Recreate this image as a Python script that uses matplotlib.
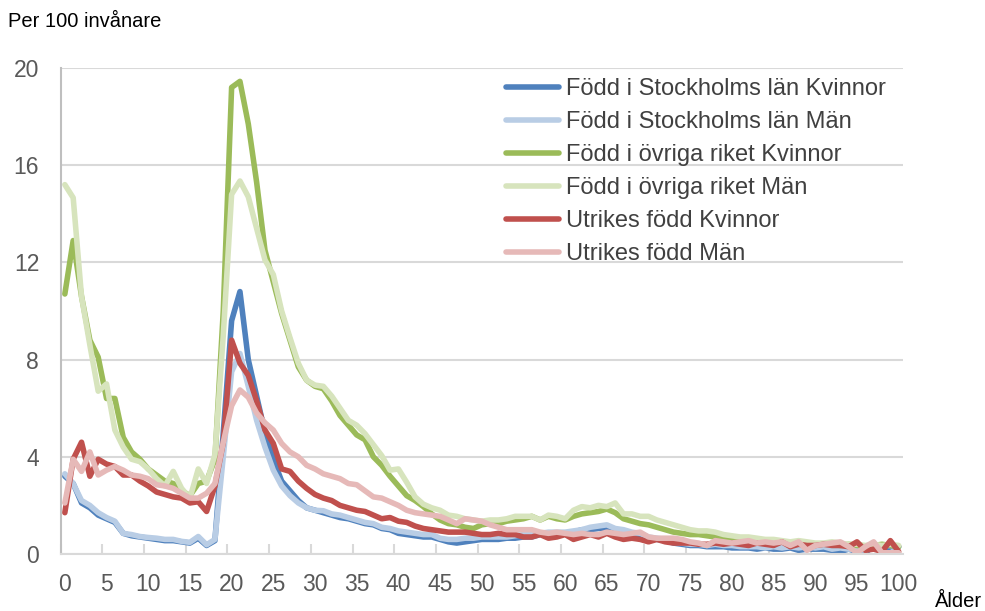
import matplotlib
matplotlib.use("Agg")
import matplotlib.pyplot as plt
import numpy as np

plt.rcParams['font.family'] = ['Liberation Sans', 'DejaVu Sans']

# Ages 0..100
ages = np.arange(0, 101)

sthlm_kvinnor = [
    3.2, 2.9, 2.1, 1.9, 1.6, 1.45, 1.3, 0.85, 0.75, 0.7,
    0.65, 0.6, 0.55, 0.55, 0.5, 0.45, 0.65, 0.35, 0.55, 5.0,
    9.6, 10.8, 8.0, 6.5, 5.0, 3.9, 3.0, 2.6, 2.2, 1.9,
    1.8, 1.7, 1.6, 1.5, 1.45, 1.35, 1.25, 1.2, 1.05, 1.0,
    0.85, 0.8, 0.75, 0.7, 0.7, 0.6, 0.5, 0.45, 0.5, 0.55,
    0.6, 0.6, 0.6, 0.65, 0.65, 0.7, 0.7, 0.8, 0.8, 0.8,
    0.85, 0.9, 1.0, 1.0, 1.05, 1.05, 0.9, 0.85, 0.8, 0.7,
    0.65, 0.6, 0.55, 0.45, 0.4, 0.35, 0.35, 0.3, 0.3, 0.3,
    0.25, 0.25, 0.25, 0.2, 0.25, 0.2, 0.2, 0.25, 0.15, 0.2,
    0.2, 0.2, 0.15, 0.1, 0.2, 0.1, 0.05, 0.35, 0.1, 0.3, 0.3,
]
sthlm_man = [
    3.3, 2.9, 2.2, 2.0, 1.7, 1.5, 1.35, 0.85, 0.8, 0.72,
    0.68, 0.65, 0.6, 0.6, 0.52, 0.48, 0.72, 0.38, 0.6, 4.0,
    7.5, 8.25, 6.9, 5.5, 4.4, 3.45, 2.8, 2.4, 2.1, 1.9,
    1.8, 1.78, 1.65, 1.6, 1.5, 1.4, 1.3, 1.25, 1.1, 1.05,
    0.95, 0.9, 0.85, 0.8, 0.8, 0.65, 0.6, 0.6, 0.65, 0.65,
    0.7, 0.7, 0.7, 0.7, 0.75, 0.8, 0.8, 0.85, 0.9, 0.9,
    0.9, 0.95, 1.0, 1.1, 1.15, 1.2, 1.05, 1.0, 0.9, 0.85,
    0.7, 0.65, 0.6, 0.5, 0.45, 0.4, 0.4, 0.35, 0.4, 0.35,
    0.35, 0.3, 0.3, 0.3, 0.25, 0.3, 0.25, 0.3, 0.25, 0.3,
    0.25, 0.3, 0.2, 0.25, 0.2, 0.2, 0.15, 0.3, 0.35, 0.35, 0.3,
]
ovriga_kvinnor = [
    10.7, 12.9, 10.6, 8.8, 8.1, 6.4, 6.4, 4.8, 4.2, 3.9,
    3.5, 3.25, 3.0, 2.9, 2.6, 2.4, 2.9, 3.0, 3.9, 10.0,
    19.2, 19.45, 17.7, 15.3, 12.5, 11.2, 9.9, 8.8, 7.7, 7.15,
    6.9, 6.8, 6.3, 5.7, 5.3, 4.9, 4.7, 4.0, 3.65, 3.2,
    2.8, 2.4, 2.2, 1.95, 1.65, 1.4, 1.25, 1.2, 1.1, 1.05,
    1.2, 1.25, 1.25, 1.35, 1.4, 1.45, 1.55, 1.4, 1.55, 1.45,
    1.4, 1.55, 1.65, 1.7, 1.75, 1.85, 1.7, 1.45, 1.35, 1.25,
    1.2, 1.1, 1.0, 0.9, 0.85, 0.8, 0.8, 0.75, 0.7, 0.65,
    0.6, 0.6, 0.55, 0.55, 0.5, 0.5, 0.5, 0.45, 0.45, 0.45,
    0.4, 0.4, 0.4, 0.35, 0.4, 0.35, 0.3, 0.35, 0.4, 0.35, 0.3,
]
ovriga_man = [
    15.2, 14.66, 10.6, 8.6, 6.7, 7.0, 5.1, 4.4, 3.9, 3.8,
    3.5, 3.1, 2.8, 3.4, 2.7, 2.3, 3.5, 2.9, 4.1, 9.0,
    14.8, 15.35, 14.7, 13.4, 12.1, 11.5, 10.0, 8.9, 7.85, 7.15,
    6.95, 6.9, 6.5, 6.0, 5.5, 5.3, 4.95, 4.5, 4.05, 3.45,
    3.5, 2.95, 2.35, 2.05, 1.9, 1.8, 1.6, 1.55, 1.45, 1.4,
    1.35, 1.4, 1.4, 1.45, 1.55, 1.55, 1.55, 1.4, 1.6, 1.55,
    1.45, 1.8, 1.95, 1.9, 2.0, 1.95, 2.1, 1.65, 1.65, 1.55,
    1.55, 1.4, 1.3, 1.2, 1.1, 1.0, 0.95, 0.95, 0.9, 0.8,
    0.75, 0.7, 0.7, 0.65, 0.6, 0.6, 0.55, 0.5, 0.55, 0.5,
    0.45, 0.45, 0.5, 0.45, 0.4, 0.4, 0.35, 0.4, 0.35, 0.4, 0.35,
]
utrikes_kvinnor = [
    1.7, 3.9, 4.6, 3.2, 3.9, 3.7, 3.6, 3.25, 3.25, 3.0,
    2.8, 2.55, 2.45, 2.35, 2.3, 2.1, 2.15, 1.75, 2.8, 4.6,
    8.8, 7.85, 7.35, 6.3, 5.1, 4.55, 3.5, 3.4, 3.0, 2.7,
    2.45, 2.3, 2.2, 2.0, 1.9, 1.8, 1.75, 1.6, 1.45, 1.5,
    1.35, 1.3, 1.15, 1.05, 1.0, 0.95, 0.9, 0.9, 0.9, 0.85,
    0.8, 0.8, 0.85, 0.8, 0.8, 0.7, 0.7, 0.8, 0.65, 0.7,
    0.8, 0.6, 0.7, 0.8, 0.7, 0.85, 0.7, 0.6, 0.65, 0.6,
    0.5, 0.6, 0.5, 0.45, 0.45, 0.45, 0.4, 0.4, 0.45, 0.4,
    0.45, 0.4, 0.35, 0.45, 0.4, 0.35, 0.5, 0.3, 0.4, 0.35,
    0.35, 0.4, 0.35, 0.35, 0.3, 0.5, 0.15, 0.2, 0.1, 0.55, 0.1,
]
utrikes_man = [
    2.1, 3.9, 3.4, 4.2, 3.25, 3.45, 3.6, 3.45, 3.25, 3.2,
    3.1, 2.85, 2.8, 2.7, 2.5, 2.3, 2.3, 2.5, 2.9, 4.6,
    6.1, 6.75, 6.45, 5.8, 5.4, 5.1, 4.55, 4.2, 4.0, 3.65,
    3.5, 3.3, 3.2, 3.1, 2.9, 2.85, 2.6, 2.35, 2.3, 2.15,
    2.0, 1.8, 1.7, 1.65, 1.6, 1.55, 1.4, 1.25, 1.45, 1.4,
    1.35, 1.2, 1.1, 1.0, 1.0, 1.0, 1.0, 0.9, 0.85, 0.9,
    0.85, 0.8, 0.85, 0.8, 0.8, 0.9, 0.85, 0.8, 0.85, 0.9,
    0.7, 0.65, 0.65, 0.65, 0.6, 0.5, 0.45, 0.35, 0.55, 0.5,
    0.45, 0.5, 0.55, 0.45, 0.5, 0.45, 0.5, 0.35, 0.5, 0.15,
    0.35, 0.4, 0.45, 0.5, 0.3, 0.05, 0.3, 0.5, 0.05, 0.05, 0.05,
]

series = [
    ("Född i Stockholms län Kvinnor", sthlm_kvinnor, "#4F81BD"),
    ("Född i Stockholms län Män", sthlm_man, "#B9CDE5"),
    ("Född i övriga riket Kvinnor", ovriga_kvinnor, "#9BBB59"),
    ("Född i övriga riket Män", ovriga_man, "#D7E4BD"),
    ("Utrikes född Kvinnor", utrikes_kvinnor, "#C0504D"),
    ("Utrikes född Män", utrikes_man, "#E6B9B8"),
]

fig = plt.figure(figsize=(9.85, 6.11), dpi=100)
ax = fig.add_axes([0.0616, 0.0933, 0.855, 0.7954])

for name, vals, col in series:
    ax.plot(ages, vals, color=col, lw=4.0, label=name,
            solid_joinstyle='round', solid_capstyle='round')

ax.set_xlim(-0.5, 100.5)
ax.set_ylim(0, 20)

# y axis: gridlines, labels, no tick marks
ax.set_yticks([0, 4, 8, 12, 16, 20])
ax.yaxis.grid(True, color="#D9D9D9", lw=1.5)
ax.set_axisbelow(True)
ax.tick_params(axis='y', length=0, pad=15.5, labelsize=16.5, labelcolor="#595959")

# x axis: labels at category centres, tick marks at category boundaries
ax.set_xticks(np.arange(0, 101, 5))
ax.set_xticks(np.arange(-0.5, 101, 5), minor=True)
ax.tick_params(axis='x', which='major', length=0, pad=14, labelsize=16.5,
               labelcolor="#595959")
ax.tick_params(axis='x', which='minor', length=7, direction='in',
               color="#D9D9D9", width=1.5)

for s in ['top', 'right']:
    ax.spines[s].set_visible(False)
ax.spines['left'].set_color("#BFBFBF")
ax.spines['left'].set_linewidth(1.5)
ax.spines['bottom'].set_color("#D9D9D9")
ax.spines['bottom'].set_linewidth(1.5)

fig.text(0.008, 0.965, "Per 100 invånare", fontsize=14.5, color="black", va='center')
fig.text(0.949, 0.006, "Ålder", fontsize=14.5, color="black", va='baseline')

leg = ax.legend(loc='upper left', bbox_to_anchor=(0.517, 0.999), frameon=False,
                fontsize=17, handlelength=2.25, handletextpad=0.3,
                labelspacing=0.465, borderaxespad=0)
for t in leg.get_texts():
    t.set_color("#404040")

fig.savefig("out.png", dpi=100)
